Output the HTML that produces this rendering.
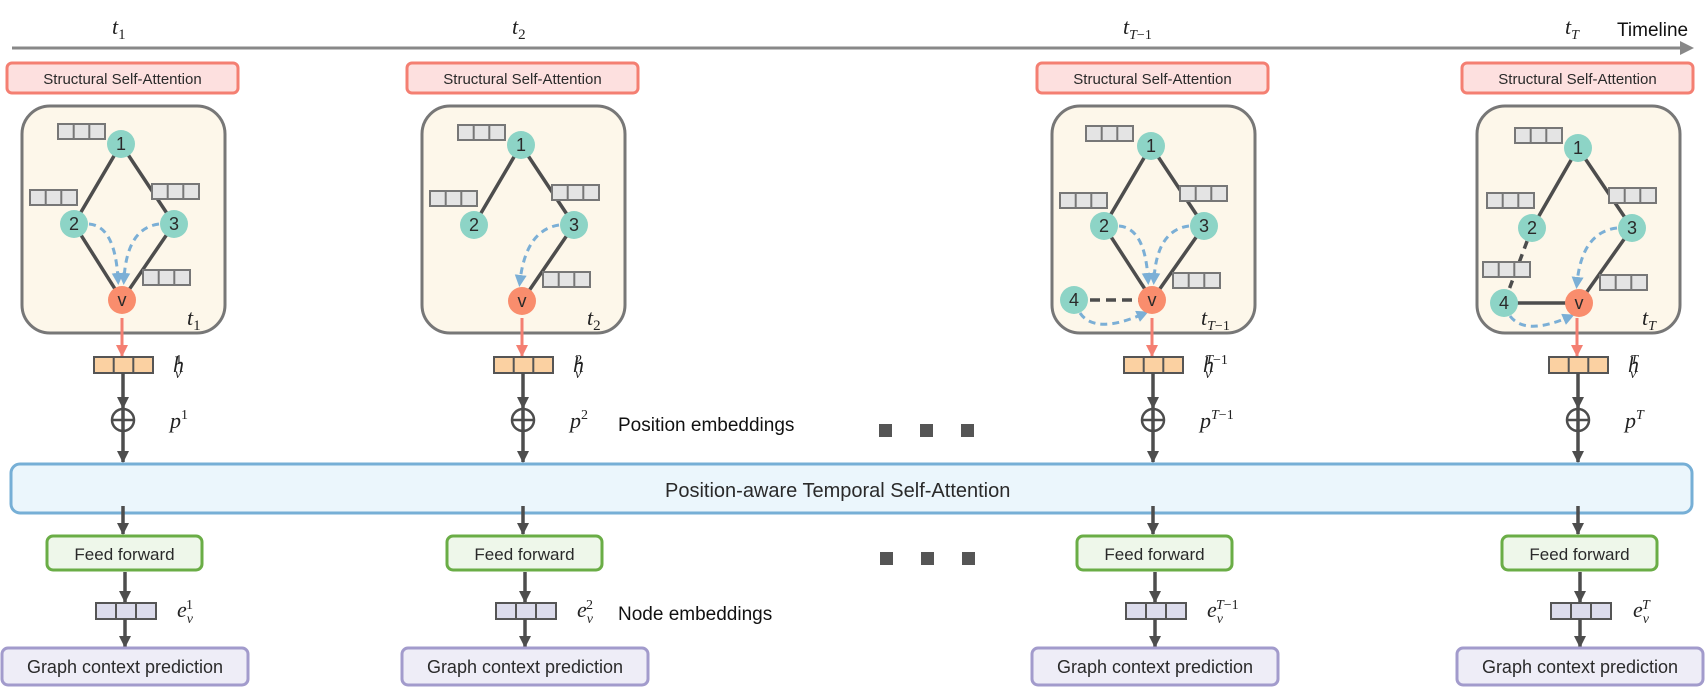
<!DOCTYPE html>
<html><head><meta charset="utf-8"><style>
body{margin:0;background:#fff}
svg{display:block}
.m{font-family:"Liberation Serif",serif;font-style:italic;fill:#222}
.s{font-family:"Liberation Sans",sans-serif;fill:#2a2a2a}
</style></head><body>
<svg width="1708" height="693" viewBox="0 0 1708 693" xmlns="http://www.w3.org/2000/svg">
<defs>
<marker id="ad" markerWidth="10" markerHeight="10" refX="5" refY="8" orient="auto" markerUnits="userSpaceOnUse" viewBox="0 0 10 10"><path d="M0,0 L10,0 L5,10 z" fill="#4d4d4d" transform="rotate(0)"/></marker>
<marker id="dn" markerWidth="12" markerHeight="12" refX="6" refY="11" markerUnits="userSpaceOnUse" viewBox="0 0 12 12"><path d="M0,0 L12,0 L6,12 z" fill="#4d4d4d"/></marker>
<marker id="rd" markerWidth="12" markerHeight="12" refX="6" refY="11" markerUnits="userSpaceOnUse" viewBox="0 0 12 12"><path d="M0,0 L12,0 L6,12 z" fill="#f47f72"/></marker>
<marker id="bl" markerWidth="12" markerHeight="12" refX="6" refY="6" orient="auto" markerUnits="userSpaceOnUse" viewBox="0 0 12 12"><path d="M0,0 L12,6 L0,12 z" fill="#7bafd6"/></marker>
<g id="cells"><rect x="0" y="0" width="47" height="15" fill="#e4e4e4" stroke="#777" stroke-width="2"/><line x1="15.7" y1="0" x2="15.7" y2="15" stroke="#777" stroke-width="2"/><line x1="31.3" y1="0" x2="31.3" y2="15" stroke="#777" stroke-width="2"/></g>
</defs>

<!-- timeline -->
<line x1="12" y1="48" x2="1682" y2="48" stroke="#888" stroke-width="3"/>
<path d="M1680,41 L1694,48 L1680,55 z" fill="#888"/>
<text class="s" x="1617" y="36" font-size="19" style="fill:#111">Timeline</text>
<text class="m" x="112" y="34" font-size="22">t<tspan font-size="15" dy="5" font-style="normal">1</tspan></text>
<text class="m" x="512" y="34" font-size="22">t<tspan font-size="15" dy="5" font-style="normal">2</tspan></text>
<text class="m" x="1123" y="34" font-size="22">t<tspan font-size="14" dy="5">T</tspan><tspan font-size="14" font-style="normal">−1</tspan></text>
<text class="m" x="1565" y="34" font-size="22">t<tspan font-size="14" dy="5">T</tspan></text>

<!-- big bar -->
<rect x="11" y="464" width="1681" height="49" rx="9" fill="#ebf6fc" stroke="#76afd6" stroke-width="3"/>
<text class="s" x="665" y="497" font-size="20">Position-aware Temporal Self-Attention</text>
<text class="s" x="618" y="431" font-size="19" style="fill:#111">Position embeddings</text>
<text class="s" x="618" y="620" font-size="19" style="fill:#111">Node embeddings</text>
<g fill="#555"><rect x="879" y="424" width="13" height="13"/><rect x="920" y="424" width="13" height="13"/><rect x="961" y="424" width="13" height="13"/>
<rect x="880" y="552" width="13" height="13"/><rect x="921" y="552" width="13" height="13"/><rect x="962" y="552" width="13" height="13"/></g>

<!-- column template rendered 4 times -->
<g id="c1">
<rect x="7" y="63" width="231" height="30" rx="5" fill="#fde0df" stroke="#f47f72" stroke-width="3"/>
<text class="s" x="122.5" y="84" font-size="15" text-anchor="middle">Structural Self-Attention</text>
<rect x="22" y="106" width="203" height="227" rx="28" fill="#fdf7ea" stroke="#777" stroke-width="3"/>
<line x1="122" y1="318" x2="122" y2="356" stroke="#f47f72" stroke-width="3" marker-end="url(#rd)"/>
<rect x="94" y="357" width="59" height="16" fill="#fbd1a2" stroke="#555" stroke-width="2"/>
<line x1="113.7" y1="357" x2="113.7" y2="373" stroke="#555" stroke-width="2"/><line x1="133.3" y1="357" x2="133.3" y2="373" stroke="#555" stroke-width="2"/>
<line x1="123" y1="373" x2="123" y2="408" stroke="#4d4d4d" stroke-width="3.5" marker-end="url(#dn)"/>
<circle cx="123" cy="420" r="11" fill="none" stroke="#4d4d4d" stroke-width="2.5"/>
<line x1="112" y1="420" x2="134" y2="420" stroke="#4d4d4d" stroke-width="2.5"/>
<line x1="123" y1="409" x2="123" y2="462" stroke="#4d4d4d" stroke-width="3.5" marker-end="url(#dn)"/>
<line x1="123" y1="506" x2="123" y2="534" stroke="#4d4d4d" stroke-width="3.5" marker-end="url(#dn)"/>
<rect x="47" y="536" width="155" height="34" rx="6" fill="#eef7ea" stroke="#6aad46" stroke-width="3"/>
<text class="s" x="124.5" y="560" font-size="17" text-anchor="middle">Feed forward</text>
<line x1="125" y1="572" x2="125" y2="602" stroke="#4d4d4d" stroke-width="3.5" marker-end="url(#dn)"/>
<rect x="96" y="603" width="60" height="16" fill="#dcdcec" stroke="#555" stroke-width="2"/>
<line x1="116" y1="603" x2="116" y2="619" stroke="#555" stroke-width="2"/><line x1="136" y1="603" x2="136" y2="619" stroke="#555" stroke-width="2"/>
<line x1="125" y1="619" x2="125" y2="647" stroke="#4d4d4d" stroke-width="3.5" marker-end="url(#dn)"/>
<rect x="2" y="648" width="246" height="37" rx="6" fill="#eeedf7" stroke="#a29bcc" stroke-width="3"/>
<text class="s" x="125" y="673" font-size="18" text-anchor="middle">Graph context prediction</text>
</g>
<use href="#c1" x="400"/>
<use href="#c1" x="1030"/>
<use href="#c1" x="1455"/>

<!-- math labels per column -->
<g class="m" font-size="22">
<text x="173" y="372">h<tspan font-size="14" dx="-9" dy="6">v</tspan><tspan font-size="14" font-style="normal" dx="-6" dy="-14">1</tspan></text>
<text x="170" y="428">p<tspan font-size="14" font-style="normal" dy="-9">1</tspan></text>
<text x="177" y="617">e<tspan font-size="14" dx="0" dy="6">v</tspan><tspan font-size="14" font-style="normal" dx="-7" dy="-14">1</tspan></text>
<text x="187" y="325">t<tspan font-size="15" dy="5" font-style="normal">1</tspan></text>

<text x="573" y="372">h<tspan font-size="14" dx="-9" dy="6">v</tspan><tspan font-size="14" font-style="normal" dx="-6" dy="-14">2</tspan></text>
<text x="570" y="428">p<tspan font-size="14" font-style="normal" dy="-9">2</tspan></text>
<text x="577" y="617">e<tspan font-size="14" dy="6">v</tspan><tspan font-size="14" font-style="normal" dx="-7" dy="-14">2</tspan></text>
<text x="587" y="325">t<tspan font-size="15" dy="5" font-style="normal">2</tspan></text>

<text x="1203" y="372">h<tspan font-size="14" dx="-9" dy="6">v</tspan><tspan font-size="14" dx="-6" dy="-14">T</tspan><tspan font-size="14" font-style="normal">−1</tspan></text>
<text x="1200" y="428">p<tspan font-size="14" dy="-9">T</tspan><tspan font-size="14" font-style="normal">−1</tspan></text>
<text x="1207" y="617">e<tspan font-size="14" dy="6">v</tspan><tspan font-size="14" dx="-7" dy="-14">T</tspan><tspan font-size="14" font-style="normal">−1</tspan></text>
<text x="1201" y="325">t<tspan font-size="14" dy="5">T</tspan><tspan font-size="14" font-style="normal">−1</tspan></text>

<text x="1628" y="372">h<tspan font-size="14" dx="-9" dy="6">v</tspan><tspan font-size="14" dx="-6" dy="-14">T</tspan></text>
<text x="1625" y="428">p<tspan font-size="14" dy="-9">T</tspan></text>
<text x="1633" y="617">e<tspan font-size="14" dy="6">v</tspan><tspan font-size="14" dx="-7" dy="-14">T</tspan></text>
<text x="1642" y="325">t<tspan font-size="14" dy="5">T</tspan></text>
</g>

<!-- graphs -->
<g stroke="#4d4d4d" stroke-width="3.5" fill="none">
<!-- panel1 -->
<line x1="121" y1="144" x2="74" y2="224"/><line x1="121" y1="144" x2="174" y2="224"/>
<line x1="74" y1="224" x2="122" y2="300"/><line x1="174" y1="224" x2="122" y2="300"/>
<!-- panel2 -->
<line x1="521" y1="145" x2="474" y2="225"/><line x1="521" y1="145" x2="574" y2="225"/>
<line x1="574" y1="225" x2="522" y2="301"/>
<!-- panel3 -->
<line x1="1151" y1="146" x2="1104" y2="226"/><line x1="1151" y1="146" x2="1204" y2="226"/>
<line x1="1104" y1="226" x2="1152" y2="300"/><line x1="1204" y1="226" x2="1152" y2="300"/>
<line x1="1074" y1="300" x2="1152" y2="300" stroke-dasharray="10 6"/>
<!-- panel4 -->
<line x1="1578" y1="148" x2="1532" y2="228"/><line x1="1578" y1="148" x2="1632" y2="228"/>
<line x1="1632" y1="228" x2="1579" y2="303"/><line x1="1504" y1="303" x2="1579" y2="303"/>
<line x1="1532" y1="228" x2="1504" y2="303" stroke-dasharray="8 6"/>
</g>
<!-- small cell boxes -->
<use href="#cells" x="58" y="124"/><use href="#cells" x="30" y="190"/><use href="#cells" x="152" y="184"/><use href="#cells" x="143" y="270"/>
<use href="#cells" x="458" y="125"/><use href="#cells" x="430" y="191"/><use href="#cells" x="552" y="185"/><use href="#cells" x="543" y="272"/>
<use href="#cells" x="1086" y="126"/><use href="#cells" x="1060" y="193"/><use href="#cells" x="1180" y="186"/><use href="#cells" x="1173" y="273"/>
<use href="#cells" x="1515" y="128"/><use href="#cells" x="1487" y="193"/><use href="#cells" x="1609" y="188"/><use href="#cells" x="1483" y="262"/><use href="#cells" x="1600" y="275"/>
<!-- blue dashed attention -->
<g stroke="#7bafd6" stroke-width="3" fill="none" stroke-dasharray="7 5">
<path d="M89,224 Q115,226 118,279" marker-end="url(#bl)"/>
<path d="M159,224 Q127,228 124,279" marker-end="url(#bl)"/>
<path d="M559,225 Q526,230 520,281" marker-end="url(#bl)"/>
<path d="M1119,226 Q1145,228 1148,279" marker-end="url(#bl)"/>
<path d="M1189,226 Q1157,230 1154,279" marker-end="url(#bl)"/>
<path d="M1080,313 Q1095,335 1143,314" marker-end="url(#bl)"/>
<path d="M1617,228 Q1582,232 1577,283" marker-end="url(#bl)"/>
<path d="M1510,316 Q1525,336 1569,317" marker-end="url(#bl)"/>
</g>
<!-- nodes -->
<g font-family="Liberation Sans,sans-serif" font-size="18" text-anchor="middle" fill="#2a2a2a">
<g><circle cx="121" cy="144" r="14" fill="#8dd4c6"/><text x="121" y="150">1</text>
<circle cx="74" cy="224" r="14" fill="#8dd4c6"/><text x="74" y="230">2</text>
<circle cx="174" cy="224" r="14" fill="#8dd4c6"/><text x="174" y="230">3</text>
<circle cx="122" cy="300" r="14" fill="#f98d6d"/><text x="122" y="306">v</text></g>
<g><circle cx="521" cy="145" r="14" fill="#8dd4c6"/><text x="521" y="151">1</text>
<circle cx="474" cy="225" r="14" fill="#8dd4c6"/><text x="474" y="231">2</text>
<circle cx="574" cy="225" r="14" fill="#8dd4c6"/><text x="574" y="231">3</text>
<circle cx="522" cy="301" r="14" fill="#f98d6d"/><text x="522" y="307">v</text></g>
<g><circle cx="1151" cy="146" r="14" fill="#8dd4c6"/><text x="1151" y="152">1</text>
<circle cx="1104" cy="226" r="14" fill="#8dd4c6"/><text x="1104" y="232">2</text>
<circle cx="1204" cy="226" r="14" fill="#8dd4c6"/><text x="1204" y="232">3</text>
<circle cx="1074" cy="300" r="14" fill="#8dd4c6"/><text x="1074" y="306">4</text>
<circle cx="1152" cy="300" r="14" fill="#f98d6d"/><text x="1152" y="306">v</text></g>
<g><circle cx="1578" cy="148" r="14" fill="#8dd4c6"/><text x="1578" y="154">1</text>
<circle cx="1532" cy="228" r="14" fill="#8dd4c6"/><text x="1532" y="234">2</text>
<circle cx="1632" cy="228" r="14" fill="#8dd4c6"/><text x="1632" y="234">3</text>
<circle cx="1504" cy="303" r="14" fill="#8dd4c6"/><text x="1504" y="309">4</text>
<circle cx="1579" cy="303" r="14" fill="#f98d6d"/><text x="1579" y="309">v</text></g>
</g>
</svg>
</body></html>
